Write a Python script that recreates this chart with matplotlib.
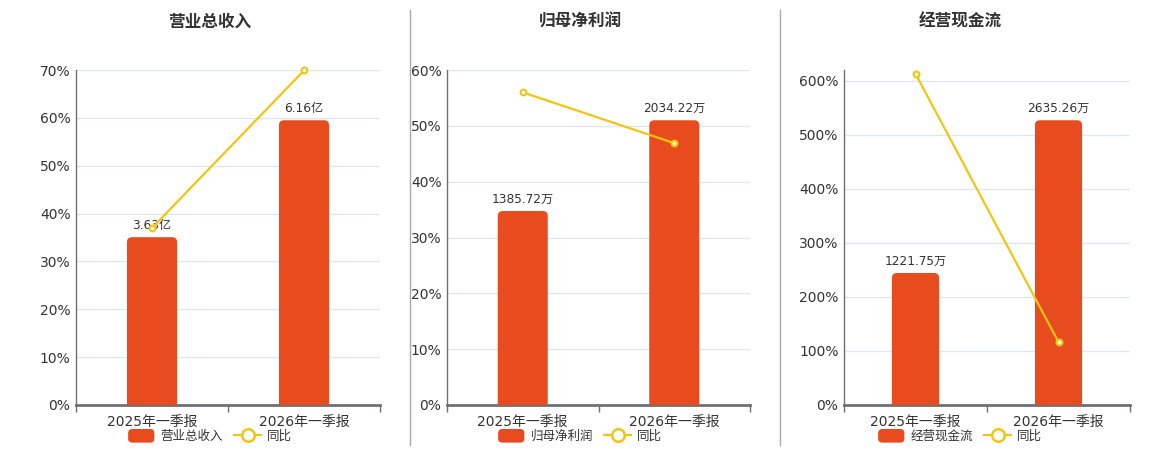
import matplotlib
matplotlib.use("Agg")
import matplotlib.pyplot as plt
from matplotlib.patches import FancyBboxPatch, Patch
from matplotlib.lines import Line2D
from matplotlib.legend_handler import HandlerPatch
from matplotlib.ticker import FuncFormatter

plt.rcParams['font.family'] = ['DejaVu Sans', 'Noto Sans CJK SC']

categories = ["2025年一季报", "2026年一季报"]

titles = ["营业总收入", "归母净利润", "经营现金流"]
bar_values = [[3.63, 6.16], [1385.72, 2034.22], [1221.75, 2635.26]]
bar_labels = [["3.63亿", "6.16亿"], ["1385.72万", "2034.22万"], ["1221.75万", "2635.26万"]]
yoy_values = [[37.0, 69.9], [56.0, 46.9], [613.0, 116.5]]
pct_ticks = [[0, 10, 20, 30, 40, 50, 60, 70],
             [0, 10, 20, 30, 40, 50, 60],
             [0, 100, 200, 300, 400, 500, 600]]
pct_max = [70, 60, 620]

BAR = "#E84C1E"
LINE = "#F2C511"
GRID = "#E0E6F1"
AXIS = "#6E7079"
TEXT = "#333333"

W, H = 1160, 450
fig = plt.figure(figsize=(W / 100, H / 100), dpi=100)

ax_px = [(76, 380), (447, 750), (844, 1130)]
top_px, bot_px = 70, 405
title_x = [210, 580, 960]


def rounded_handle(legend, orig_handle, xdescent, ydescent, width, height, fontsize):
    return FancyBboxPatch((-xdescent, -ydescent), width, height,
                          boxstyle="round,pad=0,rounding_size=3",
                          facecolor=orig_handle.get_facecolor(), edgecolor='none')


for i in range(3):
    l, r = ax_px[i]
    rect = [l / W, 1 - bot_px / H, (r - l) / W, (bot_px - top_px) / H]
    axg = fig.add_axes(rect)
    axb = axg.twinx()
    axl = axg.twinx()

    x = list(range(len(categories)))
    axg.set_xlim(-0.5, len(categories) - 0.5)
    axg.set_ylim(0, pct_max[i])
    axg.set_yticks(pct_ticks[i])
    axg.yaxis.set_major_formatter(FuncFormatter(lambda v, p: f"{v:.0f}%"))
    axg.grid(axis='y', color=GRID, linewidth=1)
    axg.set_axisbelow(True)
    axg.tick_params(axis='y', length=0, pad=4, labelsize=10, labelcolor=TEXT)
    axg.set_xticks(x)
    axg.set_xticklabels(categories)
    axg.tick_params(axis='x', which='major', length=0, pad=7, labelsize=10, labelcolor=TEXT)
    axg.set_xticks([-0.5, 0.5, 1.5], minor=True)
    axg.tick_params(axis='x', which='minor', length=5, width=1, color=AXIS)
    for s in ['top', 'right']:
        axg.spines[s].set_visible(False)
    axg.spines['left'].set_color(AXIS)
    axg.spines['left'].set_linewidth(1)
    axg.spines['bottom'].set_color(AXIS)
    axg.spines['bottom'].set_linewidth(2)
    axg.spines['bottom'].set_zorder(5)

    M = max(bar_values[i]) / 0.85
    axb.set_ylim(0, M)
    axb.set_yticks([])
    for s in axb.spines.values():
        s.set_visible(False)
    bars = axb.bar(x, bar_values[i], width=0.33, color=BAR)
    ax_w_px = r - l
    ax_h_px = bot_px - top_px
    x_per_px = (len(categories)) / ax_w_px
    y_per_px = M / ax_h_px
    aspect = y_per_px / x_per_px
    rad = 5 * x_per_px
    for b in bars:
        bx, bw, bh = b.get_x(), b.get_width(), b.get_height()
        b.set_visible(False)
        p = FancyBboxPatch((bx, -rad * aspect * 2), bw, bh + rad * aspect * 2,
                           boxstyle=f"round,pad=0,rounding_size={rad}",
                           mutation_aspect=aspect, facecolor=BAR,
                           edgecolor='none', clip_on=True)
        axb.add_patch(p)
        p.set_clip_path(axb.patch)
    for xi, v, lab in zip(x, bar_values[i], bar_labels[i]):
        axb.annotate(lab, (xi, v), xytext=(0, 4), textcoords='offset points',
                     ha='center', va='bottom', fontsize=8.7, color=TEXT)

    axl.set_ylim(0, pct_max[i])
    axl.set_yticks([])
    for s in axl.spines.values():
        s.set_visible(False)
    axl.plot(x, yoy_values[i], color=LINE, linewidth=1.6, marker='o',
             markersize=4.2, markerfacecolor='white', markeredgecolor=LINE,
             markeredgewidth=1.5, clip_on=False, zorder=6)

    fig.text(title_x[i] / W, 1 - 22 / H, titles[i], ha='center', va='center',
             fontsize=12, fontweight='bold', color=TEXT)

    handles = [Patch(facecolor=BAR, edgecolor='none'),
               Line2D([0], [0], color=LINE, linewidth=1.6, marker='o', markersize=9,
                      markerfacecolor='white', markeredgecolor=LINE, markeredgewidth=1.8)]
    fig.legend(handles, [titles[i], "同比"], loc='center',
               bbox_to_anchor=(title_x[i] / W, 1 - 436 / H), ncol=2, frameon=False,
               fontsize=9, handlelength=2.1, handleheight=1.3, handletextpad=0.5,
               columnspacing=0.9, labelcolor=TEXT, borderpad=0, borderaxespad=0,
               handler_map={Patch: HandlerPatch(patch_func=rounded_handle)})

for sx in [410, 780]:
    fig.add_artist(Line2D([sx / W, sx / W], [1 - 445 / H, 1 - 10 / H],
                          color="#AAAAAA", linewidth=1, transform=fig.transFigure))

fig.savefig("out.png", dpi=100)
